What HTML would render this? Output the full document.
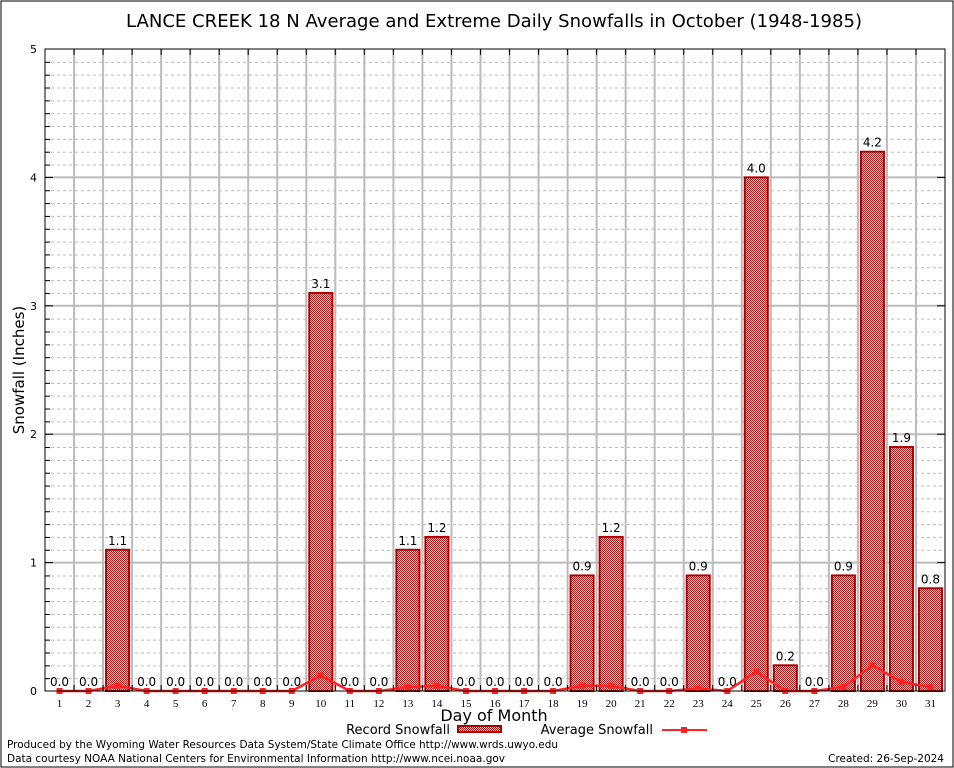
<!DOCTYPE html>
<html><head><meta charset="utf-8"><style>
body{margin:0;background:#fff;}
svg{display:block;font-family:"DejaVu Sans","Liberation Sans",sans-serif;}
</style></head><body>
<svg id="chart" width="954" height="768" viewBox="0 0 954 768">
<defs>
<pattern id="chk" width="2" height="2" patternUnits="userSpaceOnUse">
<rect width="2" height="2" fill="#fff"/><rect width="1" height="1" fill="#c00"/><rect x="1" y="1" width="1" height="1" fill="#c00"/>
</pattern>
</defs>
<rect x="1" y="1" width="952" height="766" fill="#fff" stroke="#000" stroke-width="1"/>
<text x="494" y="27" font-size="17.5" text-anchor="middle" textLength="736" lengthAdjust="spacingAndGlyphs">LANCE CREEK 18 N Average and Extreme Daily Snowfalls in October (1948-1985)</text>
<g id="grid"></g>
<g id="bars"></g>
<g id="avg"></g>
<rect x="45" y="49" width="900" height="642" fill="none" stroke="#000" stroke-width="1"/>
<g id="axes"></g>
<text x="24" y="370" font-size="15" text-anchor="middle" transform="rotate(-90 24 370)">Snowfall (Inches)</text>
<text x="494" y="721" font-size="16" text-anchor="middle">Day of Month</text>
<g>
<text x="450" y="734" font-size="13" text-anchor="end">Record Snowfall</text>
<rect x="458" y="726" width="43" height="6" fill="url(#chk)" stroke="#a00" stroke-width="2"/>
</g>
<g>
<text x="653" y="734" font-size="13" text-anchor="end">Average Snowfall</text>
<line x1="662" y1="730" x2="707" y2="730" stroke="#f22" stroke-width="2"/>
<rect x="681" y="727" width="6" height="6" fill="#f22"/>
</g>
<text x="7" y="748" font-size="10.5" textLength="551" lengthAdjust="spacingAndGlyphs">Produced by the Wyoming Water Resources Data System/State Climate Office http://www.wrds.uwyo.edu</text>
<text x="7" y="762" font-size="10.5" textLength="498" lengthAdjust="spacingAndGlyphs">Data courtesy NOAA National Centers for Environmental Information http://www.ncei.noaa.gov</text>
<text x="944" y="762" font-size="10.5" text-anchor="end">Created: 26-Sep-2024</text>
</svg>
<script>
const days=[1,2,3,4,5,6,7,8,9,10,11,12,13,14,15,16,17,18,19,20,21,22,23,24,25,26,27,28,29,30,31];
const recordVals=[0,0,1.1,0,0,0,0,0,0,3.1,0,0,1.1,1.2,0,0,0,0,0.9,1.2,0,0,0.9,0,4.0,0.2,0,0.9,4.2,1.9,0.8];
const avgVals=[0,0,0.04,0,0,0,0,0,0,0.12,0,0,0.03,0.04,0,0,0,0,0.04,0.04,0,0,0.02,0,0.15,0,0,0.03,0.2,0.07,0.03];
const yTicks=[0,1,2,3,4,5];
const NS="http://www.w3.org/2000/svg";
const L=45,R=945,T=49,B=691,yMax=5;
const dw=(R-L)/days.length;
const xC=d=>L+(d-0.5)*dw;
const y=v=>B-(v/yMax)*(B-T);
function mk(p,tag,a){const e=document.createElementNS(NS,tag);for(const k in a)e.setAttribute(k,a[k]);p.appendChild(e);return e;}
const grid=document.getElementById('grid'),axes=document.getElementById('axes'),bars=document.getElementById('bars'),avg=document.getElementById('avg');
for(let i=1;i<yMax*10;i++){if(i%10===0)continue;const yy=y(i/10)+0.5;
const g=mk(grid,'line',{x1:L,x2:R,y1:yy,y2:yy,stroke:'#bbb','stroke-dasharray':'3,3'});


const t1=mk(axes,'line',{x1:L,x2:L+5,y1:yy,y2:yy,stroke:'#000'});}
yTicks.forEach(v=>{const yy=y(v);
if(v>0&&v<yMax){const g=mk(grid,'line',{x1:L,x2:R,y1:yy,y2:yy,stroke:'#bbb','stroke-width':2});

}
const t=mk(axes,'text',{x:L-8,y:yy+4,'font-size':11,'text-anchor':'end',fill:'#000'});t.textContent=v;


const tk=mk(axes,'line',{x1:L,x2:L+8,y1:yy,y2:yy,stroke:'#000'});
const tk2=mk(axes,'line',{x1:R-8,x2:R,y1:yy,y2:yy,stroke:'#000'});});
days.forEach((d,i)=>{
if(i>0){const xx=L+i*dw;const g=mk(grid,'line',{x1:xx,x2:xx,y1:T,y2:B,stroke:'#bbb','stroke-width':2});


const tk=mk(axes,'line',{x1:xx,x2:xx,y1:T,y2:T+6,stroke:'#000'});
const tb=mk(axes,'line',{x1:xx,x2:xx,y1:B-6,y2:B,stroke:'#000'});}
const t=mk(axes,'text',{x:xC(d),y:B+16,'font-size':11,'text-anchor':'middle','font-family':'Liberation Serif, serif'});t.textContent=d;


const v=recordVals[i];
if(v>0){const r=mk(bars,'rect',{x:xC(d)-11.5,y:y(v),width:23,height:B-y(v),fill:'url(#chk)',stroke:'#a00','stroke-width':2});

}
const lb=mk(bars,'text',{x:xC(d),y:y(v)-5,'font-size':12,'text-anchor':'middle'});lb.textContent=v.toFixed(1);


});
const pl=mk(avg,'polyline',{points:days.map((d,i)=>xC(d)+','+y(avgVals[i])).join(' '),fill:'none',stroke:'#f22','stroke-width':2.5});


days.forEach((d,i)=>{const m=mk(avg,'rect',{x:xC(d)-3,y:y(avgVals[i])-3,width:6,height:6,fill:'#f22'});

});
</script>
</body></html>
